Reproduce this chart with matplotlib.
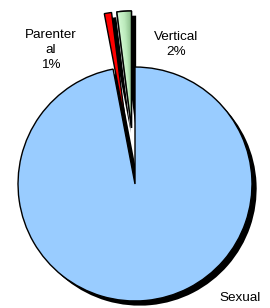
import numpy as np
import matplotlib.pyplot as plt
from matplotlib.patches import Wedge
from matplotlib.colors import LinearSegmentedColormap

plt.rcParams['font.family'] = ['Liberation Sans', 'DejaVu Sans']

labels = ['Sexual', 'Parenter\nal', 'Vertical']
pct_labels = ['97%', '1%', '2%']
values = [97, 1, 2]
colors = ['#99CCFF', '#FF0000', '#B8E8B8']
explode = [0, 0.48, 0.48]

fig = plt.figure(figsize=(2.70, 3.08), dpi=100)
ax = fig.add_axes([0, 0, 1, 1])

# shadow
ax.pie(values, explode=explode, colors=['black'] * 3, startangle=90,
       counterclock=False, center=(0.04, -0.04), radius=1,
       wedgeprops=dict(linewidth=0), frame=True)
wedges, _ = ax.pie(values, explode=explode, colors=colors, startangle=90,
                   counterclock=False, radius=1,
                   wedgeprops=dict(edgecolor='black', linewidth=1), frame=True)

# gradient on the vertical slice: light on the left, darker green on the right
g = wedges[2]
cmap = LinearSegmentedColormap.from_list('g', ['#D8FCD8', '#BDEBBD', '#86B886'])
n = 24
edges = np.linspace(g.theta2, g.theta1, n + 1)
for i in range(n):
    lo, hi = sorted((edges[i], edges[i + 1]))
    ax.add_patch(Wedge(g.center, g.r, lo - 0.05, hi + 0.05,
                       facecolor=cmap(i / (n - 1)), edgecolor='none', zorder=3))
ax.add_patch(Wedge(g.center, g.r, g.theta1, g.theta2, facecolor='none',
                   edgecolor='black', linewidth=1, zorder=4))

ax.set_xlim(-1.154, 1.154)
ax.set_ylim(-1.06, 1.573)
ax.set_aspect('equal')
ax.axis('off')

def pt(px, py):
    return ((px - 135) / 117, (184 - py) / 117)

tx, ty = pt(51, 50)
ax.text(tx, ty, labels[1] + '\n' + pct_labels[1], ha='center', va='center',
        fontsize=9.7, linespacing=1.35)
tx, ty = pt(176, 44.5)
ax.text(tx, ty, labels[2] + '\n' + pct_labels[2], ha='center', va='center',
        fontsize=9.7, linespacing=1.35)
tx, ty = pt(240, 298)
ax.text(tx, ty, labels[0], ha='center', va='center', fontsize=9.7)

fig.savefig('out.png', dpi=100)
